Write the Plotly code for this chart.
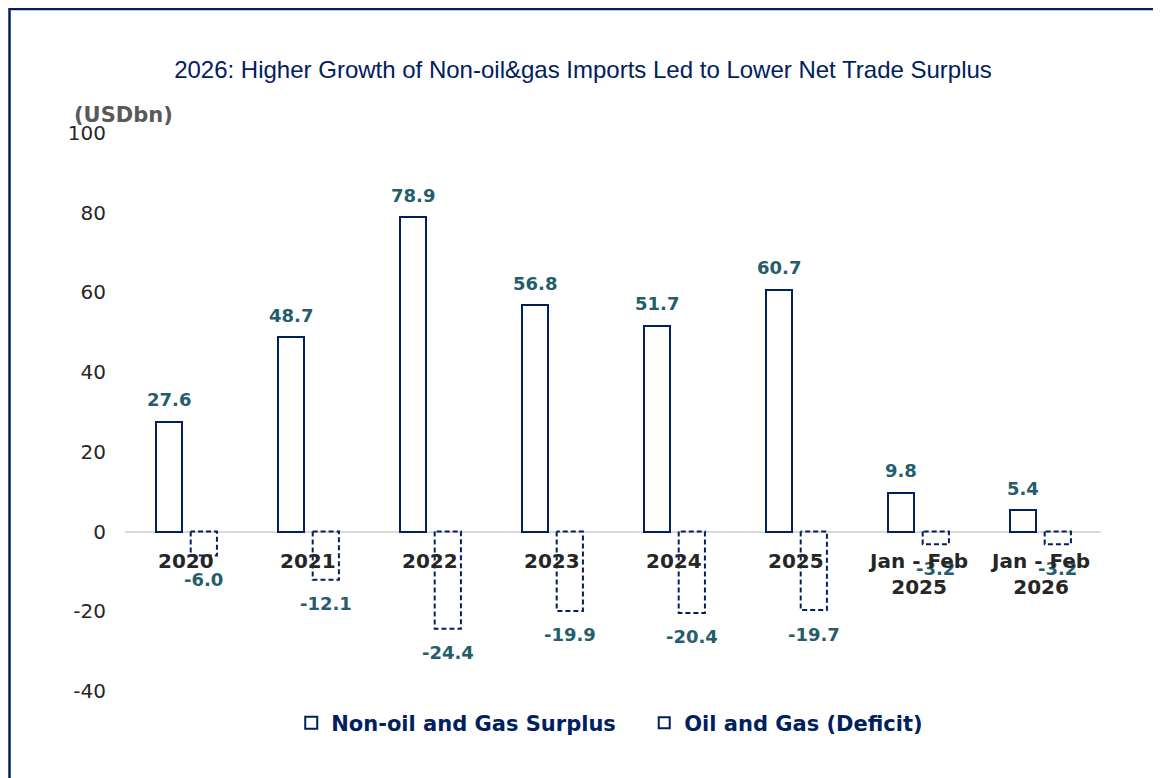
import plotly.graph_objects as go

categories = ["2020", "2021", "2022", "2023", "2024", "2025", "Jan - Feb<br>2025", "Jan - Feb<br>2026"]
non_oil_surplus = [27.6, 48.7, 78.9, 56.8, 51.7, 60.7, 9.8, 5.4]
oil_gas_deficit = [-6.0, -12.1, -24.4, -19.9, -20.4, -19.7, -3.2, -3.2]
y_ticks = [-40, -20, 0, 20, 40, 60, 80, 100]
y_tick_text = ["-40", "-20", "0", "20", "40", "60", "80", "100"]

NAVY = "#002060"
TEAL = "#245D6B"
FONT = "DejaVu Sans"

# page has an 8px body margin; figure is sized/offset to compensate
W, H = 1153, 770
ML, MT, MR, MB = 117, 125, 60, 87
PW, PH = W - ML - MR, H - MT - MB

pos = list(range(len(categories)))
BW = 0.215
OFF_A = -0.142
OFF_B = 0.146

fig = go.Figure()

fig.add_trace(go.Bar(
    x=[p + OFF_A for p in pos], y=non_oil_surplus, width=BW,
    name="Non-oil and Gas Surplus",
    marker=dict(color="white", line=dict(color=NAVY, width=2)),
    showlegend=True, hoverinfo="y",
))

# dashed outlined bars for oil & gas
rx, ry = [], []
for p, v in zip(pos, oil_gas_deficit):
    x0, x1 = p + OFF_B - BW / 2, p + OFF_B + BW / 2
    rx += [x0, x0, x1, x1, x0, None]
    ry += [0, v, v, 0, 0, None]
fig.add_trace(go.Scatter(
    x=rx, y=ry, mode="lines", line=dict(color=NAVY, width=2, dash="5px,3px"),
    showlegend=False, hoverinfo="skip",
))
# legend proxy for dashed series
fig.add_trace(go.Scatter(
    x=[None], y=[None], mode="markers", name="Oil and Gas (Deficit)",
    marker=dict(symbol="square-open", size=11, color=NAVY, line=dict(width=2, color=NAVY)),
))

ann = []
for p, v in zip(pos, non_oil_surplus):
    ann.append(dict(x=p + OFF_A, y=v, xref="x", yref="y", text=f"{v:.1f}", showarrow=False,
                    yanchor="middle", yshift=22,
                    font=dict(family=FONT, size=18, color=TEAL, weight="bold")))
for p, v in zip(pos, oil_gas_deficit):
    ann.append(dict(x=p + OFF_B, y=v, xref="x", yref="y", text=f"{v:.1f}", showarrow=False,
                    yanchor="middle", yshift=-24,
                    font=dict(family=FONT, size=18, color=TEAL, weight="bold")))
for p, c in zip(pos, categories):
    ann.append(dict(x=p, y=0, xref="x", yref="y", text=c, showarrow=False,
                    yanchor="top", yshift=-15,
                    font=dict(family=FONT, size=20, color="#262626", weight="bold")))
ann.append(dict(x=(64 - ML) / PW, y=1 + (MT - 107) / PH, xref="paper", yref="paper",
                text="(USDbn)", showarrow=False, xanchor="left", yanchor="middle",
                font=dict(family=FONT, size=21, color="#595959", weight="bold")))

# frame lines (left and top border)
xl = (1.5 - ML) / PW
yt = 1 + (MT - 1) / PH
shapes = [dict(type="path", xref="paper", yref="paper",
               path=f"M {xl},{-0.3} L {xl},{yt} L {1.2},{yt}",
               line=dict(color=NAVY, width=2.5))]

fig.update_layout(
    width=W, height=H,
    margin=dict(l=ML, r=MR, t=MT, b=MB),
    paper_bgcolor="white", plot_bgcolor="white",
    title=dict(text="2026: Higher Growth of Non-oil&gas Imports Led to Lower Net Trade Surplus",
               x=(583 - 8) / W, xanchor="center", y=1 - (70 - 8) / H, yanchor="middle",
               font=dict(family="Liberation Sans", size=24, color=NAVY)),
    xaxis=dict(range=[-0.5, 7.5], showticklabels=False, showgrid=False, zeroline=False,
               showline=False, fixedrange=True),
    yaxis=dict(range=[-40, 100], tickvals=y_ticks, ticktext=y_tick_text, showgrid=False,
               zeroline=True, zerolinecolor="#d9d9d9", zerolinewidth=2, showline=False,
               ticklabelstandoff=18,
               tickfont=dict(family=FONT, size=20, color="#262626")),
    legend=dict(orientation="h", x=0.532, xanchor="center", y=(691 - 723) / PH, yanchor="middle",
                font=dict(family=FONT, size=21, color=NAVY, weight="bold"),
                itemwidth=30, entrywidth=308, traceorder="normal"),
    annotations=ann, shapes=shapes, bargap=0, barmode="overlay",
)

fig.write_html("out.html")
